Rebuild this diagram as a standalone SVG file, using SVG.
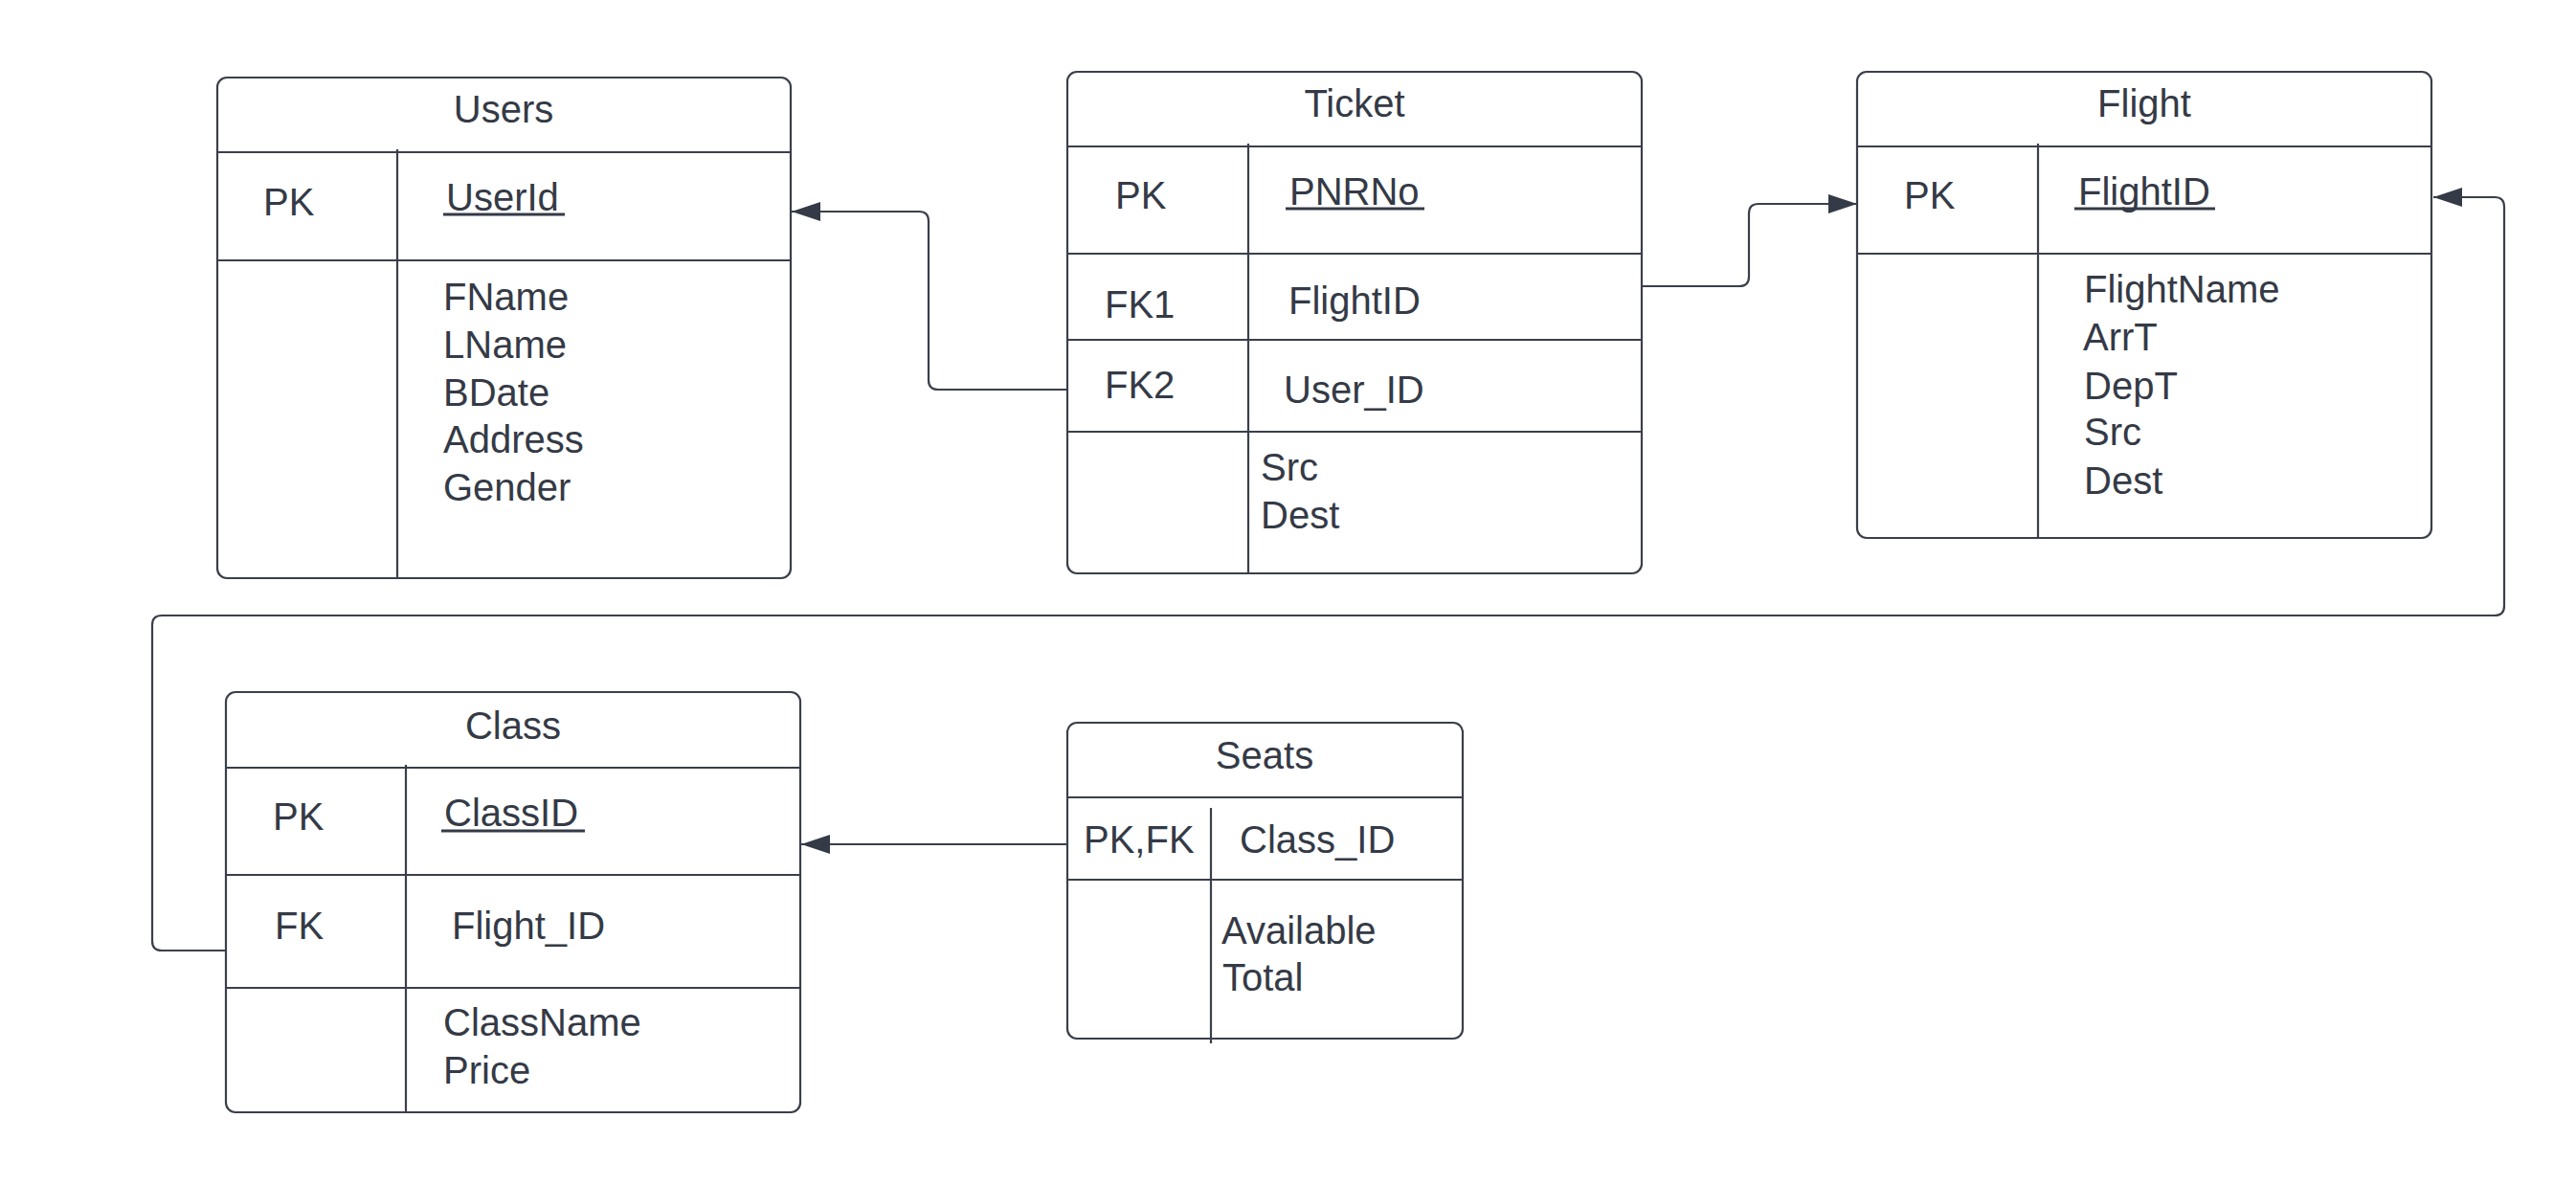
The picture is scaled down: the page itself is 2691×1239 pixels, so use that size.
<svg xmlns="http://www.w3.org/2000/svg" width="2691" height="1239" viewBox="0 0 2691 1239">
<defs>
<style>
.box{fill:#ffffff;stroke:#3a3f4a;stroke-width:2.2}
.ln{fill:none;stroke:#3a3f4a;stroke-width:2.2}
.conn{fill:none;stroke:#3a3f4a;stroke-width:2.2}
text{font-family:"Liberation Sans",Arial,sans-serif;font-size:40px;fill:#343a46}
.t{text-anchor:middle}
.u{text-decoration:underline}
</style>
<marker id="arr" markerUnits="userSpaceOnUse" viewBox="0 0 30 20" refX="30" refY="10" markerWidth="30" markerHeight="20" orient="auto">
<path d="M0,0 L30,10 L0,20 z" fill="#343a46"/>
</marker>
</defs>
<rect width="2691" height="1239" fill="#ffffff"/>

<g id="connectors">
<path class="conn" d="M1115,407 H980 Q970,407 970,397 V231 Q970,221 960,221 H827" marker-end="url(#arr)"/>
<path class="conn" d="M1715,299 H1817 Q1827,299 1827,289 V223 Q1827,213 1837,213 H1940" marker-end="url(#arr)"/>
<path class="conn" d="M236,993 H169 Q159,993 159,983 V653 Q159,643 169,643 H2606 Q2616,643 2616,633 V216 Q2616,206 2606,206 H2542" marker-end="url(#arr)"/>
<path class="conn" d="M1115,882 H837" marker-end="url(#arr)"/>
</g>

<g id="users">
<rect class="box" x="227" y="81" width="599" height="523" rx="10"/>
<line class="ln" x1="227" y1="159" x2="826" y2="159"/>
<line class="ln" x1="227" y1="272" x2="826" y2="272"/>
<line class="ln" x1="415" y1="156" x2="415" y2="604"/>
<text class="t" x="526" y="128">Users</text>
<text x="275" y="225">PK</text>
<text x="466" y="220">UserId</text>
<line x1="463" y1="224" x2="590" y2="224" stroke="#343a46" stroke-width="3"/>
<text x="463" y="324">FName</text>
<text x="463" y="374">LName</text>
<text x="463" y="424">BDate</text>
<text x="463" y="473">Address</text>
<text x="463" y="523">Gender</text>
</g>

<g id="ticket">
<rect class="box" x="1115" y="75" width="600" height="524" rx="10"/>
<line class="ln" x1="1115" y1="153" x2="1715" y2="153"/>
<line class="ln" x1="1115" y1="265" x2="1715" y2="265"/>
<line class="ln" x1="1115" y1="355" x2="1715" y2="355"/>
<line class="ln" x1="1115" y1="451" x2="1715" y2="451"/>
<line class="ln" x1="1304" y1="150" x2="1304" y2="599"/>
<text class="t" x="1415" y="122">Ticket</text>
<text x="1165" y="218">PK</text>
<text x="1347" y="214">PNRNo</text>
<line x1="1343" y1="218" x2="1488" y2="218" stroke="#343a46" stroke-width="3"/>
<text x="1154" y="332">FK1</text>
<text x="1346" y="328">FlightID</text>
<text x="1154" y="416">FK2</text>
<text x="1341" y="421">User_ID</text>
<text x="1317" y="502">Src</text>
<text x="1317" y="552">Dest</text>
</g>

<g id="flight">
<rect class="box" x="1940" y="75" width="600" height="487" rx="10"/>
<line class="ln" x1="1940" y1="153" x2="2540" y2="153"/>
<line class="ln" x1="1940" y1="265" x2="2540" y2="265"/>
<line class="ln" x1="2129" y1="150" x2="2129" y2="562"/>
<text class="t" x="2240" y="122">Flight</text>
<text x="1989" y="218">PK</text>
<text x="2171" y="214">FlightID</text>
<line x1="2167" y1="218" x2="2314" y2="218" stroke="#343a46" stroke-width="3"/>
<text x="2177" y="316">FlightName</text>
<text x="2176" y="366">ArrT</text>
<text x="2177" y="417">DepT</text>
<text x="2177" y="465">Src</text>
<text x="2177" y="516">Dest</text>
</g>

<g id="class">
<rect class="box" x="236" y="723" width="600" height="439" rx="10"/>
<line class="ln" x1="236" y1="802" x2="836" y2="802"/>
<line class="ln" x1="236" y1="914" x2="836" y2="914"/>
<line class="ln" x1="236" y1="1032" x2="836" y2="1032"/>
<line class="ln" x1="424" y1="799" x2="424" y2="1162"/>
<text class="t" x="536" y="772">Class</text>
<text x="285" y="867">PK</text>
<text x="464" y="863">ClassID</text>
<line x1="461" y1="868" x2="611" y2="868" stroke="#343a46" stroke-width="3"/>
<text x="287" y="981">FK</text>
<text x="472" y="981">Flight_ID</text>
<text x="463" y="1082">ClassName</text>
<text x="463" y="1132">Price</text>
</g>

<g id="seats">
<rect class="box" x="1115" y="755" width="413" height="330" rx="10"/>
<line class="ln" x1="1115" y1="833" x2="1528" y2="833"/>
<line class="ln" x1="1115" y1="919" x2="1528" y2="919"/>
<line class="ln" x1="1265" y1="844" x2="1265" y2="1090"/>
<text class="t" x="1321" y="803">Seats</text>
<text x="1132" y="891">PK,FK</text>
<text x="1295" y="891">Class_ID</text>
<text x="1276" y="986">Available</text>
<text x="1277" y="1035">Total</text>
</g>
</svg>
